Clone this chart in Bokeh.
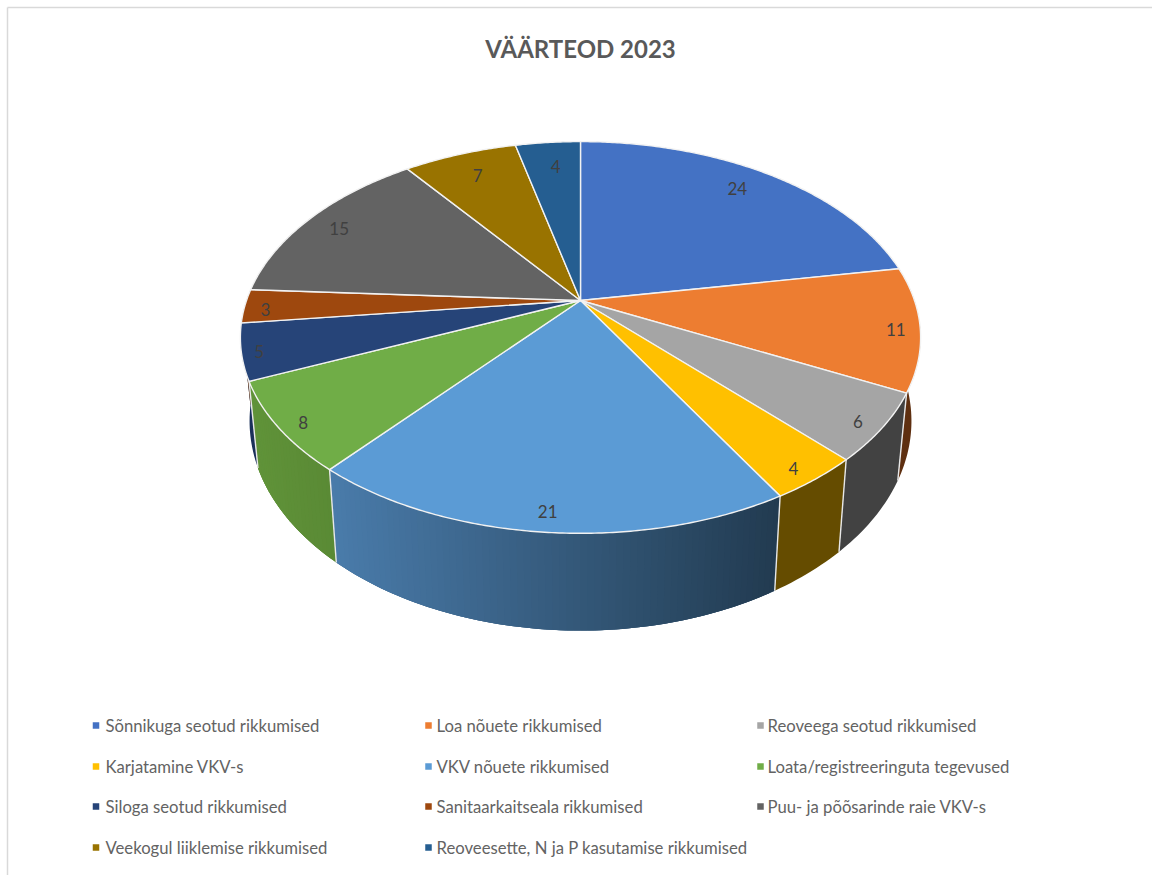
import math
from bokeh.plotting import figure
from bokeh.models import Range1d, ColumnDataSource
from bokeh.core.properties import value
from bokeh.embed import file_html
from bokeh.resources import INLINE

title = "VÄÄRTEOD 2023"
categories = ["Sõnnikuga seotud rikkumised", "Loa nõuete rikkumised", "Reoveega seotud rikkumised",
              "Karjatamine VKV-s", "VKV nõuete rikkumised", "Loata/registreeringuta tegevused",
              "Siloga seotud rikkumised", "Sanitaarkaitseala rikkumised", "Puu- ja põõsarinde raie VKV-s",
              "Veekogul liiklemise rikkumised", "Reoveesette, N ja P kasutamise rikkumised"]
values = [24, 11, 6, 4, 21, 8, 5, 3, 15, 7, 4]
colors = ["#4472c4", "#ed7d31", "#a5a5a5", "#ffc000", "#5b9bd5", "#70ad47",
          "#264478", "#9e480e", "#636363", "#997300", "#255e91"]
# side wall colour at the left and right ends of each slice's wall
side_left = ["#294477", "#5e2f10", "#424242", "#654c00", "#4a7cab", "#609339",
             "#1a305a", "#5e2a08", "#3b3b3b", "#5b4500", "#163857"]
side_right = ["#294477", "#5e2f10", "#424242", "#654c00", "#223b51", "#5a8a35",
              "#1a305a", "#5e2a08", "#3b3b3b", "#5b4500", "#163857"]
label_r = [0.84, 0.93, 0.93, 0.93, 0.93, 0.93, 0.93, 0.93, 0.87, 0.86, 0.83]
label_nudge = [(-4, -4), (0, 3), (-1, 4), (-3, 4), (0, -1), (1, 5), (-7, 3), (-3, 4), (-4, 0), (3, 3), (3, 1)]

# perspective model of the 3-D pie, in page pixels
CX, K = 580.0, 0.1887
TOP_B, TOP_A, TOP_Y = 334.0, 1001.0, -701.0
BOT_B, BOT_A, BOT_Y = 325.0, 1071.0, -690.0


def proj(frac, r, B, A, Y0):
    a = 2 * math.pi * frac
    X, t = r * math.sin(a), r * math.cos(a)
    s = 1.0 / (1.0 + K * t)
    return CX + B * X * s, Y0 + A * s


def top(frac, r=1.0):
    return proj(frac, r, TOP_B, TOP_A, TOP_Y)


def bot(frac):
    return proj(frac, 1.0, BOT_B, BOT_A, BOT_Y)


def mix(c1, c2, f):
    a = [int(c1[i:i + 2], 16) for i in (1, 3, 5)]
    b = [int(c2[i:i + 2], 16) for i in (1, 3, 5)]
    return "#%02x%02x%02x" % tuple(round(p + (q - p) * f) for p, q in zip(a, b))


total = sum(values)
edges = [0.0]
for v in values:
    edges.append(edges[-1] + v / total)

W, H = 1152, 875
p = figure(width=W, height=H, output_backend="svg", toolbar_location=None,
           x_range=Range1d(0, W), y_range=Range1d(H, 0),
           min_border=0, outline_line_color=None, background_fill_color="white")
p.axis.visible = False
p.grid.visible = False

# chart frame (only the top and left edges fall inside the picture)
p.line([7, 7], [H, 7], line_color="#d9d9d9", line_width=1.5)
p.line([7, W], [7, 7], line_color="#d9d9d9", line_width=1.5)

# side walls: one solid polygon per slice, gradient strips where the colour changes
wx, wy, wc = [], [], []
sx, sy, sc = [], [], []
for i in range(len(values)):
    f0, f1 = max(edges[i], 0.17), min(edges[i + 1], 0.83)
    if f1 <= f0:
        continue
    n = max(4, int((f1 - f0) * 360))
    fr = [f0 + (f1 - f0) * j / n for j in range(n + 1)]
    tp = [top(f) for f in fr]
    bt = [bot(f) for f in fr]
    wx.append([q[0] for q in tp] + [q[0] for q in reversed(bt)])
    wy.append([q[1] for q in tp] + [q[1] for q in reversed(bt)])
    wc.append(mix(side_left[i], side_right[i], 0.5))
    if side_left[i] != side_right[i]:
        xl, xr = min(tp[0][0], tp[-1][0]), max(tp[0][0], tp[-1][0])
        for j in range(n):
            k = min(n, j + 2)
            sx.append([tp[j][0], tp[k][0], bt[k][0], bt[j][0]])
            sy.append([tp[j][1], tp[k][1], bt[k][1], bt[j][1]])
            sc.append(mix(side_left[i], side_right[i], (tp[j][0] - xl) / (xr - xl)))
p.patches(xs="x", ys="y", fill_color="c", line_color=None,
          source=ColumnDataSource(dict(x=wx, y=wy, c=wc)))
p.patches(xs="x", ys="y", fill_color="c", line_color=None,
          source=ColumnDataSource(dict(x=sx, y=sy, c=sc)))

# seams on the side wall
for e in edges[1:-1]:
    if 0.28 < e < 0.72:
        t0, b0 = top(e), bot(e)
        p.line([t0[0], b0[0]], [t0[1], b0[1]], line_color="#e8e8e8", line_width=1.4)

# top face
tx, ty = [], []
for i in range(len(values)):
    f0, f1 = edges[i], edges[i + 1]
    n = max(4, int((f1 - f0) * 720))
    pts = [top(f0 + (f1 - f0) * j / n) for j in range(n + 1)]
    c = top(0, 0)
    tx.append([c[0]] + [q[0] for q in pts])
    ty.append([c[1]] + [q[1] for q in pts])
p.patches(xs="x", ys="y", fill_color="c", line_color="#f2f2f2", line_width=1.4,
          line_join="round", source=ColumnDataSource(dict(x=tx, y=ty, c=colors)))

# data labels
lx, ly, lt = [], [], []
for i, v in enumerate(values):
    q = top((edges[i] + edges[i + 1]) / 2, label_r[i])
    lx.append(q[0] + label_nudge[i][0]); ly.append(q[1] + label_nudge[i][1]); lt.append(str(v))
p.text(lx, ly, text=lt, text_align="center", text_baseline="middle",
       text_color="#404040", text_font=value("Lato"), text_font_size="17px")

# title
p.text([580], [47.5], text=[title], text_align="center", text_baseline="middle",
       text_color="#595959", text_font=value("Lato"), text_font_style="bold", text_font_size="24px")

# legend
col_sq = [95.5, 428, 760]
col_tx = [105, 436, 767]
row_y = [725, 766, 806, 847]
for i, name in enumerate(categories):
    r, c = i // 3, i % 3
    p.scatter([col_sq[c]], [row_y[r]], marker="square", size=6.5, fill_color=colors[i], line_color=None)
    p.text([col_tx[c]], [row_y[r]], text=[name], text_align="left", text_baseline="middle",
           text_color="#636363", text_font=value("Lato"), text_font_size="16.7px")

open("out.html", "w").write(file_html(p, INLINE))
